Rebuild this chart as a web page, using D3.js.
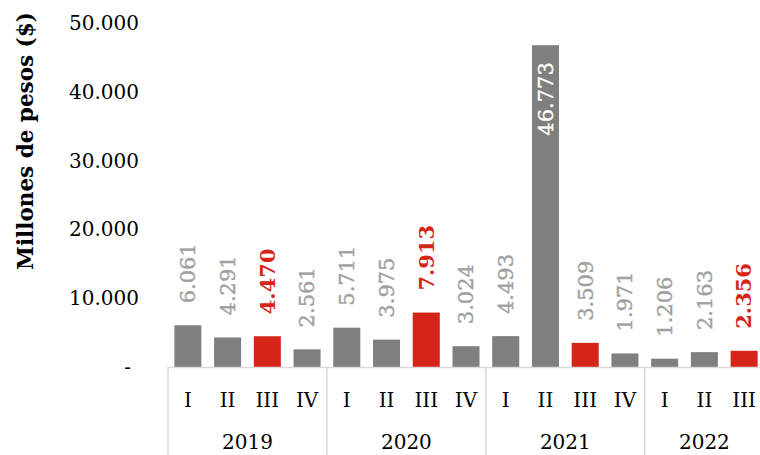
<!DOCTYPE html>
<html>
<head>
<meta charset="utf-8">
<script src="https://cdn.jsdelivr.net/npm/d3@7"></script>
<style>
  body { margin: 0; background: #fff; }
  svg text { font-family: "DejaVu Serif", serif; }
</style>
</head>
<body>
<div id="chart"></div>
<script>
const years = ["2019", "2020", "2021", "2022"];
const quarters = ["I", "II", "III", "IV", "I", "II", "III", "IV", "I", "II", "III", "IV", "I", "II", "III"];
const quarterYear = ["2019", "2019", "2019", "2019", "2020", "2020", "2020", "2020", "2021", "2021", "2021", "2021", "2022", "2022", "2022"];
const values = [6061, 4291, 4470, 2561, 5711, 3975, 7913, 3024, 4493, 46773, 3509, 1971, 1206, 2163, 2356];
const highlightedLabels = ["2019-III", "2020-III", "2022-III"];
const yTicks = [0, 10000, 20000, 30000, 40000, 50000];

const width = 760, height = 455;
const svg = d3.select("#chart").append("svg")
    .attr("width", width)
    .attr("height", height);

const data = values.map((v, i) => ({i: i, q: quarters[i], year: quarterYear[i], value: v,
    hl: highlightedLabels.includes(quarterYear[i] + "-" + quarters[i])}));

const x = d3.scaleBand()
    .domain(d3.range(values.length))
    .range([168, 764])
    .paddingInner(0.32)
    .paddingOuter(0.16);

const xCat = d3.scaleBand()
    .domain(d3.range(values.length))
    .range([168, 764]);

const y = d3.scaleLinear()
    .domain([0, 50000])
    .range([367, 23]);

const fmt = d3.formatLocale({decimal: ",", thousands: ".", grouping: [3], currency: ["$", ""]}).format(",");

// y tick labels
svg.selectAll(".ytick")
    .data(yTicks)
    .enter()
    .append("text")
    .attr("class", "ytick")
    .attr("x", d => d == 0 ? 131 : 139)
    .attr("y", d => y(d))
    .attr("dy", "0.35em")
    .attr("text-anchor", "end")
    .style("font-size", "20px")
    .attr("fill", "#000")
    .text(d => d == 0 ? "-" : fmt(d));

// y axis title
svg.append("text")
    .attr("transform", "rotate(-90)")
    .attr("x", -141)
    .attr("y", 33)
    .attr("text-anchor", "middle")
    .style("font-size", "21.5px")
    .style("font-weight", "bold")
    .text("Millones de pesos ($)");

// bars
svg.selectAll(".bar")
    .data(data)
    .enter()
    .append("rect")
    .attr("class", "bar")
    .attr("x", d => x(d.i))
    .attr("y", d => y(d.value))
    .attr("width", x.bandwidth())
    .attr("height", d => y(0) - y(d.value))
    .attr("fill", d => d.q == "III" ? "#d42518" : "#7f7f7f");

// value labels
svg.selectAll(".vlabel")
    .data(data)
    .enter()
    .append("text")
    .attr("class", "vlabel")
    .attr("transform", d => {
        const cx = x(d.i) + x.bandwidth() / 2;
        const inside = d.value > 40000;
        const yy = inside ? y(d.value) + 17 : y(d.value) - 22;
        return `translate(${cx},${yy}) rotate(-90)`;
    })
    .attr("dy", "0.35em")
    .attr("text-anchor", d => d.value > 40000 ? "end" : "start")
    .style("font-size", "21px")
    .style("font-weight", d => d.hl ? "bold" : "normal")
    .attr("fill", d => d.value > 40000 ? "#fff" : (d.hl ? "#d42518" : "#a0a0a0"))
    .attr("stroke", d => d.hl ? "none" : (d.value > 40000 ? "#fff" : "#a0a0a0"))
    .attr("stroke-width", 0.4)
    .text(d => fmt(d.value));

// category axis
const axisColor = "#d9d9d9";
svg.append("line")
    .attr("x1", xCat.range()[0])
    .attr("x2", xCat.range()[1])
    .attr("y1", y(0) + 0.5)
    .attr("y2", y(0) + 0.5)
    .attr("stroke", axisColor)
    .attr("stroke-width", 1.5);

const groupStarts = years.map(yr => quarterYear.indexOf(yr));
const groupEnds = years.map(yr => quarterYear.lastIndexOf(yr));

svg.selectAll(".divider")
    .data(groupStarts.concat([values.length]))
    .enter()
    .append("line")
    .attr("class", "divider")
    .attr("x1", d => d < values.length ? xCat(d) : xCat.range()[1])
    .attr("x2", d => d < values.length ? xCat(d) : xCat.range()[1])
    .attr("y1", y(0))
    .attr("y2", height)
    .attr("stroke", axisColor)
    .attr("stroke-width", 1.5);

svg.selectAll(".qlabel")
    .data(data)
    .enter()
    .append("text")
    .attr("class", "qlabel")
    .attr("x", d => xCat(d.i) + xCat.bandwidth() / 2)
    .attr("y", 400)
    .attr("dy", "0.35em")
    .attr("text-anchor", "middle")
    .style("font-size", "20px")
    .text(d => d.q);

svg.selectAll(".ylabel")
    .data(years)
    .enter()
    .append("text")
    .attr("class", "ylabel")
    .attr("x", (d, k) => (xCat(groupStarts[k]) + xCat(groupEnds[k]) + xCat.bandwidth()) / 2)
    .attr("y", 442)
    .attr("dy", "0.35em")
    .attr("text-anchor", "middle")
    .style("font-size", "20px")
    .text(d => d);
</script>
</body>
</html>
